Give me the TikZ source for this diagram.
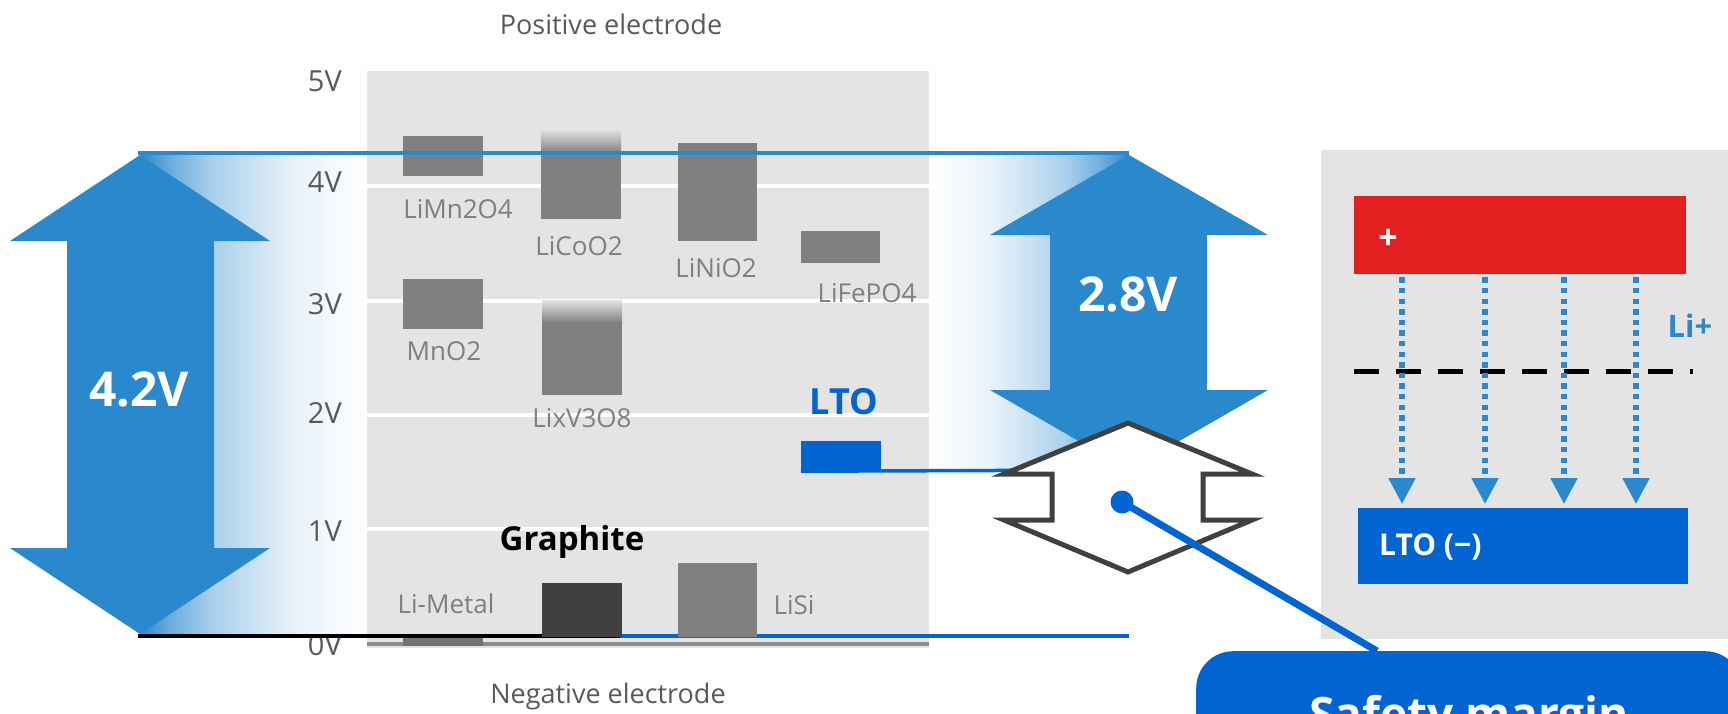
\documentclass[tikz,border=0pt]{standalone}
\usepackage{fontspec}
\setmainfont{Open Sans}
\usetikzlibrary{positioning, arrows.meta}

\definecolor{arrowblue}{HTML}{2A89CD}
\definecolor{ltoblue}{HTML}{0064D3}
\definecolor{panelgray}{HTML}{E4E4E4}
\definecolor{bargray}{HTML}{7F7F7F}
\definecolor{graphitegray}{HTML}{404040}
\definecolor{textgray}{HTML}{595959}
\definecolor{cellred}{HTML}{E41F1F}
\definecolor{hexgray}{HTML}{404040}
\colorlet{fadeA}{arrowblue!68}
\colorlet{fadeB}{arrowblue!40}
\colorlet{fadeC}{arrowblue!20}
\colorlet{fadeD}{arrowblue!10}
\colorlet{fadeE}{arrowblue!4}
\pgfdeclarehorizontalshading{voltfade}{100bp}{color(0bp)=(arrowblue); color(25bp)=(arrowblue); color(32bp)=(fadeA); color(41bp)=(fadeB); color(53bp)=(fadeC); color(60bp)=(fadeD); color(69bp)=(fadeE); color(75bp)=(white); color(100bp)=(white)}

\begin{document}
\begin{tikzpicture}[x=1pt, y=-1pt,
  caption/.style={text=textgray, font=\fontsize{27}{30}\selectfont, inner sep=0pt, anchor=base},
  volt/.style={text=textgray, font=\fontsize{29}{32}\selectfont, inner sep=0pt, anchor=base east},
  matlabel/.style={text=bargray, font=\fontsize{26}{28}\selectfont, inner sep=0pt, anchor=base},
  bar/.style={fill=bargray},
  bigarrow/.style={fill=arrowblue},
  arrowtext/.style={text=white, font=\bfseries\fontsize{48}{52}\selectfont, inner sep=0pt},
  hexmark/.style={draw=hexgray, line width=5pt, fill=white, miter limit=10},
  cellbox/.style={minimum width=332pt, minimum height=78pt, anchor=north west, inner sep=0pt},
  boxtext/.style={text=white, font=\bfseries\fontsize{30}{33}\selectfont, inner sep=0pt},
  ionflow/.style={arrowblue, line width=5.3pt, dash pattern=on 5.3pt off 5.3pt,
    shorten <=3pt, shorten >=4pt, -{Triangle[width=26pt, length=26pt]}},
  separator/.style={line width=5pt, dash pattern=on 25pt off 17pt},
  callout/.style={fill=ltoblue, rounded corners=37pt, minimum width=546pt, minimum height=134pt,
    text=white, font=\bfseries\fontsize{46}{50}\selectfont, anchor=north west}]

\useasboundingbox (0,0) rectangle (1728,713);
\clip (0,0) rectangle (1728,713);

% fading bands behind the arrows
\shade[shading=voltfade] (140,153) rectangle (368,636);
\shade[shading=voltfade, shading angle=180] (929,153) rectangle (1129,470);

% big arrows
\fill[bigarrow] (140,155) -- (270,241) -- (214,241) -- (214,548) -- (270,548) -- (140,634)
  -- (10,548) -- (67,548) -- (67,241) -- (10,241) -- cycle;
\fill[bigarrow] (1129,155) -- (1268,235) -- (1207,235) -- (1207,390) -- (1268,390) -- (1129,470)
  -- (990,390) -- (1050,390) -- (1050,235) -- (990,235) -- cycle;
\node[arrowtext] (cellv) at (139,389) {4.2V};
\node[arrowtext] (ltov) at (1128,294) {2.8V};

% chart panel
\fill[panelgray] (367,71) rectangle (929,648);
\foreach \y in {186,301,415,529}
  \draw[white, line width=4pt] (367,\y) -- (929,\y);
\fill[black!45] (367,642) rectangle (929,646);

\foreach \v/\y in {5/91,4/192,3/314,2/423,1/541,0/655}
  \node[volt] (volt\v) at (342,\y) {\v V};
\node[caption] (posside) at (611,34) {Positive electrode};
\node[caption] (negside) at (608,703) {Negative electrode};

% positive materials
\fill[bar] (403,136) rectangle (483,176);
\node[matlabel] (limn) at (458,218) {LiMn2O4};
\shade[top color=panelgray, bottom color=bargray] (541,129) rectangle (621,153);
\fill[bar] (541,152) rectangle (621,219);
\node[matlabel] (licoo) at (579,255) {LiCoO2};
\fill[bar] (678,143) rectangle (757,241);
\node[matlabel] (linio) at (716,277) {LiNiO2};
\fill[bar] (801,231) rectangle (880,263);
\node[matlabel] (lifepo) at (867,302) {LiFePO4};
\fill[bar] (403,279) rectangle (483,329);
\node[matlabel] (mno) at (444,360) {MnO2};
\shade[top color=panelgray, bottom color=bargray] (542,300) rectangle (622,323);
\fill[bar] (542,322) rectangle (622,395);
\node[matlabel] (lixvo) at (582,427) {LixV3O8};

% negative materials
\fill[black!55] (403,635) rectangle (483,646);
\node[matlabel] (limetal) at (446,613) {Li-Metal};

\coordinate (lowstart) at (138,636);
\coordinate (grright) at (620,636);
\coordinate (lowend) at (1129,636);
\draw[ltoblue, line width=3.5pt] (grright) -- (lowend);
\draw[black, line width=3.5pt] (lowstart) -- (grright);

\fill[graphitegray] (542,583) rectangle (622,637);
\node[anchor=base, inner sep=0pt, font=\bfseries\fontsize{33}{36}\selectfont] (graphite) at (572,550) {Graphite};
\fill[bar] (678,563) rectangle (757,637);
\node[matlabel] (lisi) at (794,614) {LiSi};

\node[fill=ltoblue, minimum width=80pt, minimum height=30pt, inner sep=0pt] (ltobar) at (841,456) {};
\node[anchor=base, inner sep=0pt, text=ltoblue, font=\bfseries\fontsize{36}{40}\selectfont] (lto) at (844,414) {LTO};

% 4.2V level
\coordinate (hightop) at (138,153);
\coordinate (highend) at (1129,153);
\draw[arrowblue, line width=4pt] (hightop) -- (highend);

% LTO level and margin mark
\coordinate (ltotip) at (1129,470);
\draw[ltoblue, line width=3.5pt] (ltobar.south west) -- (ltotip);
\draw[hexmark] (1128,423) -- (1004,474) -- (1052,474) -- (1052,520) -- (1004,520) -- (1128,572)
  -- (1252,520) -- (1203,520) -- (1203,474) -- (1252,474) -- cycle;

% cell sketch
\fill[panelgray] (1321,150) rectangle (1740,639);
\node[cellbox, fill=cellred] (posbox) at (1354,196) {};
\node[boxtext, font=\bfseries\fontsize{34}{36}\selectfont] (plussign) at (1388,239) {+};
\node[cellbox, fill=ltoblue, minimum width=330pt, minimum height=76pt] (negbox) at (1358,508) {};
\node[boxtext, anchor=base west] (negtext) at (1379,555) {LTO (−)};
\coordinate (sepstart) at (1354,371);
\coordinate (sepend) at (1693,371);
\draw[separator] (sepstart) -- (sepend);
\foreach \x in {1402,1485,1564,1636}
  \draw[ionflow] (\x,0 |- posbox.south) -- (\x,0 |- negbox.north);
\node[anchor=base, inner sep=0pt, text=arrowblue, font=\bfseries\fontsize{31}{34}\selectfont] (ion) at (1690,337) {Li+};

% safety margin callout
\node[callout] (safety) at (1196,651) {Safety margin};
\node[circle, fill=ltoblue, minimum size=23pt, inner sep=0pt] (dot) at (1122,502) {};
\draw[ltoblue, line width=7pt] (dot.center) -- ([xshift=181pt]safety.north west);
\end{tikzpicture}
\end{document}
